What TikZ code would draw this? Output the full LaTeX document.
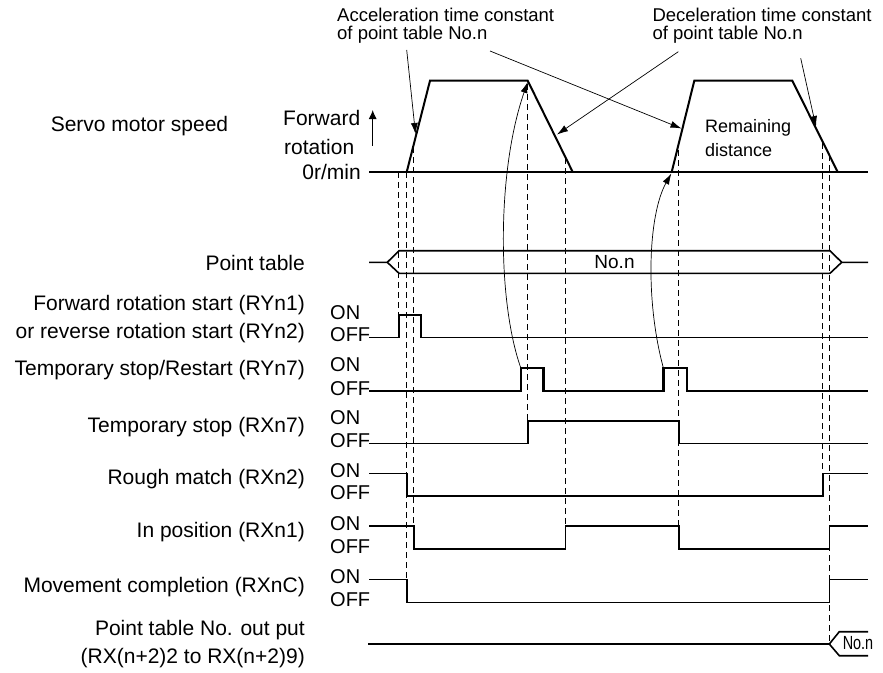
\documentclass[tikz,border=0pt]{standalone}
\usepackage{fontspec}
\usepackage{graphicx}
\setmainfont{Liberation Sans}
\usetikzlibrary{arrows.meta}
\begin{document}
\begin{tikzpicture}[x=1pt,y=-1pt,
  sig/.style={line width=1.6pt, line join=miter},
  sigbold/.style={line width=2.4pt, line join=miter},
  guide/.style={line width=0.9pt, dash pattern=on 6pt off 4pt},
  note/.style={line width=0.7pt, -{Latex[length=11pt,width=7pt]}},
  lbl/.style={anchor=east, inner sep=0pt, font=\fontsize{21}{28}\selectfont, align=right},
  axlbl/.style={inner sep=0pt, font=\fontsize{21}{28}\selectfont},
  onoff/.style={anchor=west, inner sep=0pt, font=\fontsize{20}{20}\selectfont},
  toplbl/.style={anchor=west, inner sep=0pt, font=\fontsize{18.5}{18.3}\selectfont, align=left},
  midlbl/.style={anchor=west, inner sep=0pt, font=\fontsize{18}{23.5}\selectfont, align=left},
  nolbl/.style={inner sep=0pt, font=\fontsize{19}{20}\selectfont}]
\useasboundingbox (0,0) rectangle (883,672);

% ---------- left labels ----------
\node[axlbl] (servo) at (139.5,125.7) {Servo motor speed};
\node[lbl] (ptab) at (305,263) {Point table};
\node[lbl] (fwd) at (305,319) {Forward rotation start (RYn1)\\or reverse rotation start (RYn2)};
\node[lbl] (ry7) at (305,370) {Temporary stop/Restart (RYn7)};
\node[lbl] (rx7) at (305,426.7) {Temporary stop (RXn7)};
\node[lbl] (rx2) at (305,479.3) {Rough match (RXn2)};
\node[lbl] (rx1) at (305,532.3) {In position (RXn1)};
\node[lbl] (rxc) at (305,586.7) {Movement completion (RXnC)};
\node[lbl] (pout) at (305,644) {Point table No. out put\\(RX(n+2)2 to RX(n+2)9)};

% ---------- speed axis labels ----------
\node[axlbl, anchor=west] (fwdrot) at (283,118) {Forward};
\node[axlbl, anchor=west] (rot) at (284,147) {rotation};
\node[axlbl, anchor=east] (zero) at (361,172) {0r/min};
\coordinate (axA) at (372.7,145.7);
\coordinate (axB) at (372.7,110);
\draw[line width=1pt, -{Latex[length=9pt,width=8pt]}] (axA) -- (axB);

% ---------- ON / OFF labels ----------
\node[onoff] (on1) at (330,313) {ON};  \node[onoff] (off1) at (330,335) {OFF};
\node[onoff] (on2) at (330,365) {ON};  \node[onoff] (off2) at (330,388.5) {OFF};
\node[onoff] (on3) at (330,417.5) {ON};\node[onoff] (off3) at (330,440.5) {OFF};
\node[onoff] (on4) at (330,470.5) {ON};\node[onoff] (off4) at (330,493) {OFF};
\node[onoff] (on5) at (330,523.3) {ON};\node[onoff] (off5) at (330,546.5) {OFF};
\node[onoff] (on6) at (330,576.3) {ON};\node[onoff] (off6) at (330,599.5) {OFF};

% ---------- speed profile ----------
\draw[sigbold] (369,172) -- (868,172);
\draw[line width=2pt, line join=miter] (406.7,172) -- (430,80.7) -- (527.7,80.7) -- (572.7,172);
\draw[line width=2pt, line join=miter] (671.7,172) -- (694.3,80.7) -- (792.3,80.7) -- (837.7,172);
\node[midlbl] (remain) at (705,138.3) {Remaining\\distance};

% ---------- dashed guides ----------
\draw[guide] (398.3,172) -- (398.3,315);
\draw[guide] (406.7,172) -- (406.7,579.3);
\draw[guide] (413.3,147) -- (413.3,526);
\draw[guide] (527.7,84) -- (527.7,420.7);
\draw[guide] (565.7,158) -- (565.7,526);
\draw[guide] (678.3,150) -- (678.3,526);
\draw[guide] (822.7,143) -- (822.7,473.3);
\draw[guide] (829.3,155) -- (829.3,644);

% ---------- point table ----------
\draw[sig] (369,262.3) -- (387.3,262.3) -- (399,250.7) -- (830,250.7) -- (841.7,262.3) -- (868,262.3);
\draw[sig] (387.3,262.3) -- (399,273.3) -- (830,273.3) -- (841.7,262.3);
\node[nolbl] (non) at (614.5,262) {No.n};

% ---------- signals ----------
\draw[sig] (369,337.3) -- (399,337.3) -- (399,315) -- (421,315) -- (421,337.3) -- (868,337.3);
\draw[sigbold] (369,391) -- (520.7,391) -- (520.7,367.7) -- (543.3,367.7) -- (543.3,391)
  -- (663.3,391) -- (663.3,367.7) -- (686.7,367.7) -- (686.7,391) -- (868,391);
\draw[sig] (369,443.3) -- (527.7,443.3) -- (527.7,420.7) -- (678.7,420.7) -- (678.7,443.3) -- (868,443.3);
\draw[sig] (369,473.3) -- (406.7,473.3) -- (406.7,495.7) -- (822.7,495.7) -- (822.7,473.3) -- (868,473.3);
\draw[sig] (369,526) -- (414,526) -- (414,549) -- (565.3,549) -- (565.3,526) -- (678.7,526)
  -- (678.7,549) -- (829.3,549) -- (829.3,526) -- (868,526);
\draw[sig] (369,579.3) -- (406.7,579.3) -- (406.7,602.3) -- (829.3,602.3) -- (829.3,579.3) -- (868,579.3);
\draw[sigbold] (368.3,644) -- (829.3,644);
\draw[sig] (829.3,644) -- (839.3,631.7) -- (868,631.7);
\draw[sig] (829.3,644) -- (839.3,655.7) -- (868,655.7);
\node[nolbl] (non2) at (858,643.5) {\scalebox{0.76}[1]{No.n}};

% ---------- annotations ----------
\node[toplbl] (acc) at (337,25.8) {Acceleration time constant\\of point table No.n};
\node[toplbl] (dec) at (652.3,25.8) {Deceleration time constant\\of point table No.n};
\coordinate (accS1) at (406.7,50);
\coordinate (accT1) at (415.5,134);
\coordinate (accS2) at (490,51);
\coordinate (accT2) at (681.5,128.5);
\coordinate (decS1) at (678.3,51.7);
\coordinate (decT1) at (557,134.5);
\coordinate (decS2) at (800.7,58.3);
\coordinate (decT2) at (816,127);
\draw[note] (accS1) -- (accT1);
\draw[note] (accS2) -- (accT2);
\draw[note] (decS1) -- (decT1);
\draw[note] (decS2) -- (decT2);

% ---------- curved arrows ----------
\coordinate (ts1) at (520.7,367.7);
\coordinate (tt1) at (527.7,82);
\coordinate (ts2) at (663.3,367.7);
\coordinate (tt2) at (671.3,173.5);
\draw[note] (ts1) .. controls (497,300) and (497,170) .. (tt1);
\draw[note] (ts2) .. controls (645,300) and (648,215) .. (tt2);
\end{tikzpicture}
\end{document}
